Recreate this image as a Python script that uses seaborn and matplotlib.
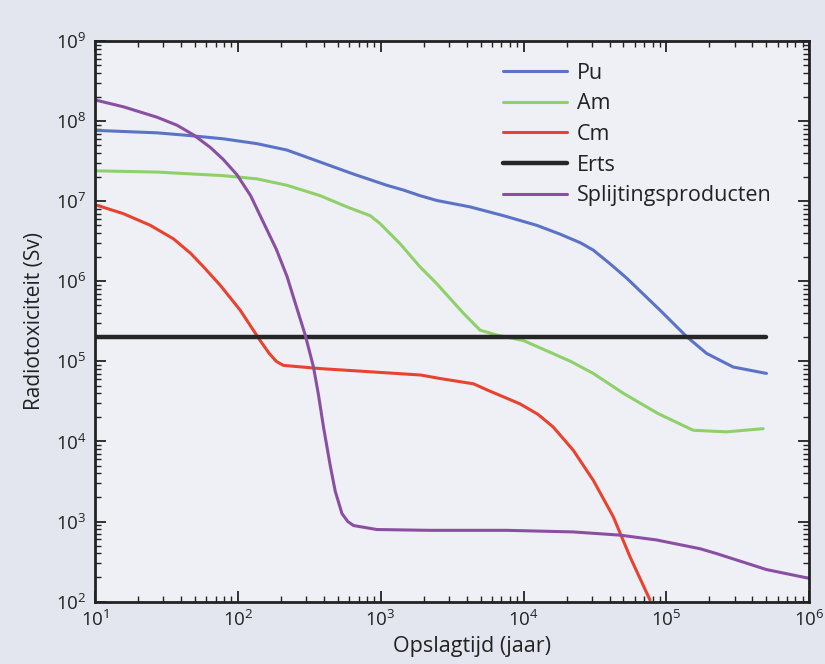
import numpy as np
import pandas as pd
import matplotlib
matplotlib.use("Agg")
import matplotlib.pyplot as plt
import matplotlib.ticker as mticker
import seaborn as sns

# --- values, as powers of ten (log10 years, log10 Sv) ---
pu_logx = [1.015, 1.435, 1.67, 1.90, 2.134, 2.344, 2.577, 2.81, 3.043, 3.16, 3.276, 3.393, 3.626, 3.86,
           4.092, 4.255, 4.40, 4.488, 4.605, 4.722, 4.955, 5.141, 5.281, 5.467, 5.70]
pu_logy = [7.885, 7.855, 7.82, 7.78, 7.72, 7.64, 7.49, 7.34, 7.20, 7.14, 7.07, 7.01, 6.93, 6.82,
           6.70, 6.59, 6.48, 6.39, 6.22, 6.04, 5.64, 5.31, 5.10, 4.93, 4.85]

am_logx = [1.015, 1.435, 1.90, 2.134, 2.344, 2.577, 2.764, 2.927, 2.997, 3.136, 3.276, 3.393, 3.58,
           3.696, 3.81, 4.0, 4.33, 4.488, 4.70, 4.94, 5.187, 5.42, 5.677]
am_logy = [7.38, 7.365, 7.32, 7.28, 7.20, 7.07, 6.93, 6.82, 6.72, 6.47, 6.18, 5.97, 5.60,
           5.39, 5.33, 5.26, 5.00, 4.85, 4.60, 4.35, 4.14, 4.12, 4.16]

cm_logx = [1.015, 1.20, 1.388, 1.551, 1.67, 1.761, 1.878, 2.017, 2.087, 2.157, 2.22, 2.27, 2.32, 2.58,
           2.93, 3.28, 3.42, 3.65, 3.75, 3.975, 4.10, 4.208, 4.348, 4.488, 4.628, 4.745, 4.885]
cm_logy = [6.95, 6.845, 6.70, 6.53, 6.35, 6.18, 5.95, 5.64, 5.45, 5.26, 5.10, 5.00, 4.95, 4.91,
           4.87, 4.83, 4.785, 4.72, 4.64, 4.47, 4.34, 4.18, 3.89, 3.515, 3.06, 2.56, 2.02]

erts_logx = [1.0, 5.70]
erts_logy = [5.31, 5.31]

sp_logx = [1.015, 1.20, 1.435, 1.575, 1.69, 1.81, 1.90, 1.995, 2.09, 2.157, 2.27, 2.345, 2.39,
           2.472, 2.53, 2.565, 2.60, 2.647, 2.682, 2.729, 2.77, 2.81, 2.973, 3.346, 3.882, 4.348,
           4.675, 4.93, 5.236, 5.35, 5.70, 6.0]
sp_logy = [8.26, 8.18, 8.05, 7.95, 7.83, 7.67, 7.52, 7.33, 7.07, 6.82, 6.40, 6.06, 5.80,
           5.33, 4.93, 4.58, 4.18, 3.70, 3.38, 3.10, 3.00, 2.95, 2.90, 2.89, 2.89, 2.87,
           2.83, 2.77, 2.66, 2.60, 2.40, 2.29]

names = ["Pu", "Am", "Cm", "Erts", "Splijtingsproducten"]
colors = ["#5b73c6", "#8fd06b", "#e8432f", "#262626", "#8a4fa3"]
widths = [2.2, 2.2, 2.2, 3.2, 2.2]
curves = [(pu_logx, pu_logy), (am_logx, am_logy), (cm_logx, cm_logy),
          (erts_logx, erts_logy), (sp_logx, sp_logy)]

sns.set_theme(style="ticks")
plt.rcParams["font.family"] = ["Open Sans", "DejaVu Sans"]
plt.rcParams["mathtext.default"] = "regular"

fig = plt.figure(figsize=(8.25, 6.64), dpi=100, facecolor="#e3e6ee")
ax = fig.add_axes([0.115, 0.094, 0.866, 0.844])
ax.set_facecolor("#eef0f5")

for name, (lx, ly), col, lw in zip(names, curves, colors, widths):
    df = pd.DataFrame({"jaar": np.power(10.0, lx), "Sv": np.power(10.0, ly)})
    sns.lineplot(data=df, x="jaar", y="Sv", ax=ax, color=col, linewidth=lw,
                 label=name, sort=False, estimator=None)

ax.set_xscale("log")
ax.set_yscale("log")
ax.set_xlim(10, 1e6)
ax.set_ylim(1e2, 1e9)

fmt = mticker.FuncFormatter(lambda v, p: r"$10^{%d}$" % round(np.log10(v)))
ax.xaxis.set_major_locator(mticker.FixedLocator([10.0 ** k for k in range(1, 7)]))
ax.yaxis.set_major_locator(mticker.FixedLocator([10.0 ** k for k in range(2, 10)]))
ax.xaxis.set_minor_locator(mticker.LogLocator(base=10, subs=range(2, 10), numticks=20))
ax.yaxis.set_minor_locator(mticker.LogLocator(base=10, subs=range(2, 10), numticks=20))
ax.xaxis.set_major_formatter(fmt)
ax.yaxis.set_major_formatter(fmt)
ax.xaxis.set_minor_formatter(mticker.NullFormatter())
ax.yaxis.set_minor_formatter(mticker.NullFormatter())

ax.tick_params(which="both", direction="in", top=True, right=True, color="#222222")
ax.tick_params(which="major", length=8, width=1.3, labelsize=13.5, colors="#222222", pad=6)
ax.tick_params(which="minor", length=4.5, width=1.0)
for sp in ax.spines.values():
    sp.set_linewidth(2.0)
    sp.set_color("#222222")

ax.set_xlabel("Opslagtijd (jaar)", fontsize=15.5, color="#222222", labelpad=4, x=0.528)
ax.set_ylabel("Radiotoxiciteit (Sv)", fontsize=15, color="#222222", labelpad=8)

leg = ax.legend(loc="upper left", bbox_to_anchor=(0.556, 0.981), frameon=False, borderpad=0,
                fontsize=15.5, handlelength=3.0, labelspacing=0.45, handletextpad=0.45)
for t in leg.get_texts():
    t.set_color("#222222")

fig.savefig("out.png", dpi=100, facecolor=fig.get_facecolor())
